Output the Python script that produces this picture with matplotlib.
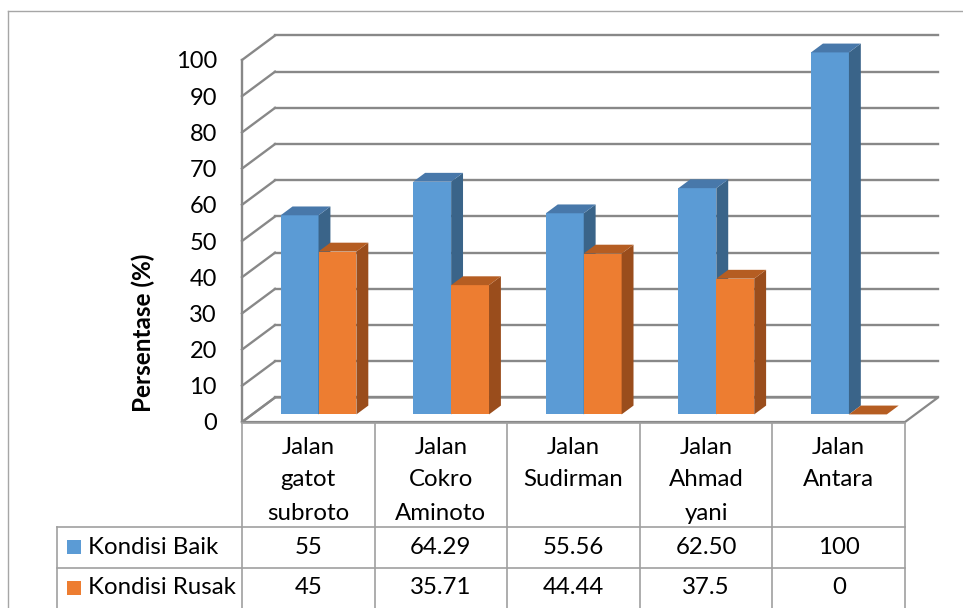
import matplotlib
matplotlib.use("Agg")
import matplotlib.pyplot as plt
from matplotlib.patches import Polygon, Rectangle
from matplotlib.lines import Line2D

plt.rcParams['font.family'] = ['Lato', 'DejaVu Sans']

# data
categories = [["Jalan", "gatot", "subroto"],
              ["Jalan", "Cokro", "Aminoto"],
              ["Jalan", "Sudirman"],
              ["Jalan", "Ahmad", "yani"],
              ["Jalan", "Antara"]]
series_names = ["Kondisi Baik", "Kondisi Rusak"]
baik = [55, 64.29, 55.56, 62.50, 100]
rusak = [45, 35.71, 44.44, 37.5, 0]
baik_labels = ["55", "64.29", "55.56", "62.50", "100"]
rusak_labels = ["45", "35.71", "44.44", "37.5", "0"]
yticks = list(range(0, 101, 10))

faces = [("#5B9BD5", "#4878AA", "#3A6489"),
         ("#ED7D31", "#B55D22", "#9A4D1C")]
grid_c = "#888888"
line_c = "#A6A6A6"
FS = 17.3

W, H = 963, 608
fig = plt.figure(figsize=(W / 100, H / 100), dpi=100)


def fx(x):
    return x / W


def fy(y):
    return 1 - y / H


ax = fig.add_axes([fx(242), fy(422), 663 / W, 362 / H])
ax.set_xlim(0, len(baik))
ax.set_ylim(0, 100)
for s in ax.spines.values():
    s.set_visible(False)
ax.set_xticks([])
ax.set_yticks(yticks)
ax.tick_params(axis='y', length=0, pad=18, labelsize=17)
ax.patch.set_alpha(0)

# oblique depth of the walls (category units, value units)
DX, DY = 0.249, 6.77
n = len(baik)

# floor
ax.add_patch(Polygon([(0, 0), (n, 0), (n + DX, DY), (DX, DY)], closed=True,
                     facecolor="white", edgecolor=grid_c, lw=1.6, clip_on=False, zorder=1))
# gridlines: back wall + left wall
for v in yticks:
    ax.add_line(Line2D([DX, n + DX], [v + DY, v + DY], color=grid_c, lw=1.7, clip_on=False, zorder=1))
    ax.add_line(Line2D([0, DX], [v, v + DY], color=grid_c, lw=1.7, clip_on=False, zorder=1))
ax.add_line(Line2D([0, 0], [0, 100], color=grid_c, lw=1.7, clip_on=False, zorder=1))

# 3D bars
bw = 1 / 3.5
z0, z1 = 0.31, 0.67
for i in range(n):
    for k, vals in enumerate([baik, rusak]):
        v = vals[i]
        front, top, side = faces[k]
        x0 = i + 0.75 / 3.5 + k * bw + z0 * DX
        y0 = z0 * DY
        ddx, ddy = (z1 - z0) * DX, (z1 - z0) * DY
        if v > 0:
            ax.add_patch(Rectangle((x0, y0), bw, v, facecolor=front, edgecolor="none",
                                   clip_on=False, zorder=3))
            ax.add_patch(Polygon([(x0 + bw, y0), (x0 + bw + ddx, y0 + ddy),
                                  (x0 + bw + ddx, y0 + ddy + v), (x0 + bw, y0 + v)],
                                 closed=True, facecolor=side, edgecolor="none",
                                 clip_on=False, zorder=3))
        ax.add_patch(Polygon([(x0, y0 + v), (x0 + bw, y0 + v), (x0 + bw + ddx, y0 + v + ddy),
                              (x0 + ddx, y0 + v + ddy)], closed=True, facecolor=top,
                             edgecolor="none", clip_on=False, zorder=3))

# outer chart border
fig.add_artist(Line2D([fx(8), fx(8)], [fy(11), fy(H)], color=line_c, lw=1))
fig.add_artist(Line2D([fx(8), fx(W)], [fy(11), fy(11)], color=line_c, lw=1))

# axis title
fig.text(fx(143), fy(333), "Persentase (%)", rotation=90, ha="center", va="center",
         fontsize=17.5, fontweight="bold")

# data table
col_w = 663 / n
rows_y = [423, 527, 568, H]
tc = "#A0A0A0"
for j in range(n + 1):
    xx = 242 + j * col_w
    fig.add_artist(Line2D([fx(xx), fx(xx)], [fy(rows_y[0]), fy(H)], color=tc, lw=1.2))
fig.add_artist(Line2D([fx(57), fx(57)], [fy(rows_y[1]), fy(H)], color=tc, lw=1.2))
fig.add_artist(Line2D([fx(242), fx(905)], [fy(rows_y[0]), fy(rows_y[0])], color=tc, lw=1.2))
for yy in rows_y[1:3]:
    fig.add_artist(Line2D([fx(57), fx(905)], [fy(yy), fy(yy)], color=tc, lw=1.2))

for j, lines in enumerate(categories):
    cx = 242 + (j + 0.5) * col_w
    for r, t in enumerate(lines):
        fig.text(fx(cx), fy(447 + 33 * r), t, ha="center", va="center", fontsize=FS)
    fig.text(fx(cx), fy(547), baik_labels[j], ha="center", va="center", fontsize=FS)
    fig.text(fx(cx), fy(588), rusak_labels[j], ha="center", va="center", fontsize=FS)

for k, (name, yy) in enumerate(zip(series_names, [547, 588])):
    fig.add_artist(Rectangle((fx(67), fy(yy + 7)), 14 / W, 14 / H, facecolor=faces[k][0],
                             edgecolor="none", transform=fig.transFigure))
    fig.text(fx(88), fy(yy), name, ha="left", va="center", fontsize=FS)

fig.savefig("out.png", dpi=100)
